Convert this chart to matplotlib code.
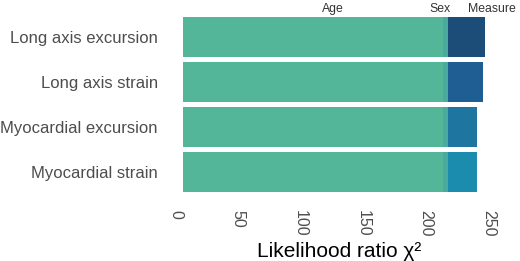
import matplotlib
matplotlib.use("Agg")
import matplotlib.pyplot as plt
import matplotlib.transforms as mtransforms

categories = ["Long axis excursion", "Long axis strain", "Myocardial excursion", "Myocardial strain"]
age = [207.5, 207.5, 207.5, 207.5]
sex = [4.0, 4.0, 4.0, 4.0]
measure = [29.5, 28.5, 23.5, 23.5]
measure_colors = ["#1b4d78", "#1f5e93", "#1e76a0", "#1b8bae"]
age_color = "#53b699"
sex_color = "#4aaa9e"
xticks = [0, 50, 100, 150, 200, 250]
segment_labels = ["Age", "Sex", "Measure"]
segment_label_x = [120, 205, 247]

plt.rcParams["font.family"] = ["Liberation Sans", "DejaVu Sans"]

fig = plt.figure(figsize=(5.2, 2.61), dpi=100)
ax = fig.add_axes([183/520, (261-199)/261, 313/520, 189/261])

y = list(range(len(categories)))
ax.barh(y, age, height=0.89, color=age_color, linewidth=0)
ax.barh(y, sex, left=age, height=0.89, color=sex_color, linewidth=0)
left2 = [a + s for a, s in zip(age, sex)]
ax.barh(y, measure, left=left2, height=0.89, color=measure_colors, linewidth=0)

ax.set_xlim(0, 250)
ax.set_ylim(len(categories) - 0.4, -0.6)
ax.set_yticks(y)
ax.set_yticklabels(categories, fontsize=12, color="#4d4d4d")
ax.set_xticks(xticks)
ax.set_xticklabels([str(t) for t in xticks], rotation=-90, fontsize=11.5, color="#4d4d4d", va="top", ha="right")
ax.tick_params(axis="y", length=0, pad=18)
ax.tick_params(axis="x", length=0, pad=8)
for s in ax.spines.values():
    s.set_visible(False)
ax.set_xlabel("Likelihood ratio χ²", fontsize=15, color="black", labelpad=4)

trans = mtransforms.blended_transform_factory(ax.transData, ax.transAxes)
for lab, xx in zip(segment_labels, segment_label_x):
    ax.text(xx, 1.005, lab, ha="center", va="center", fontsize=8.8, color="#333333",
            clip_on=False, transform=trans)

fig.savefig("out.png", dpi=100)
